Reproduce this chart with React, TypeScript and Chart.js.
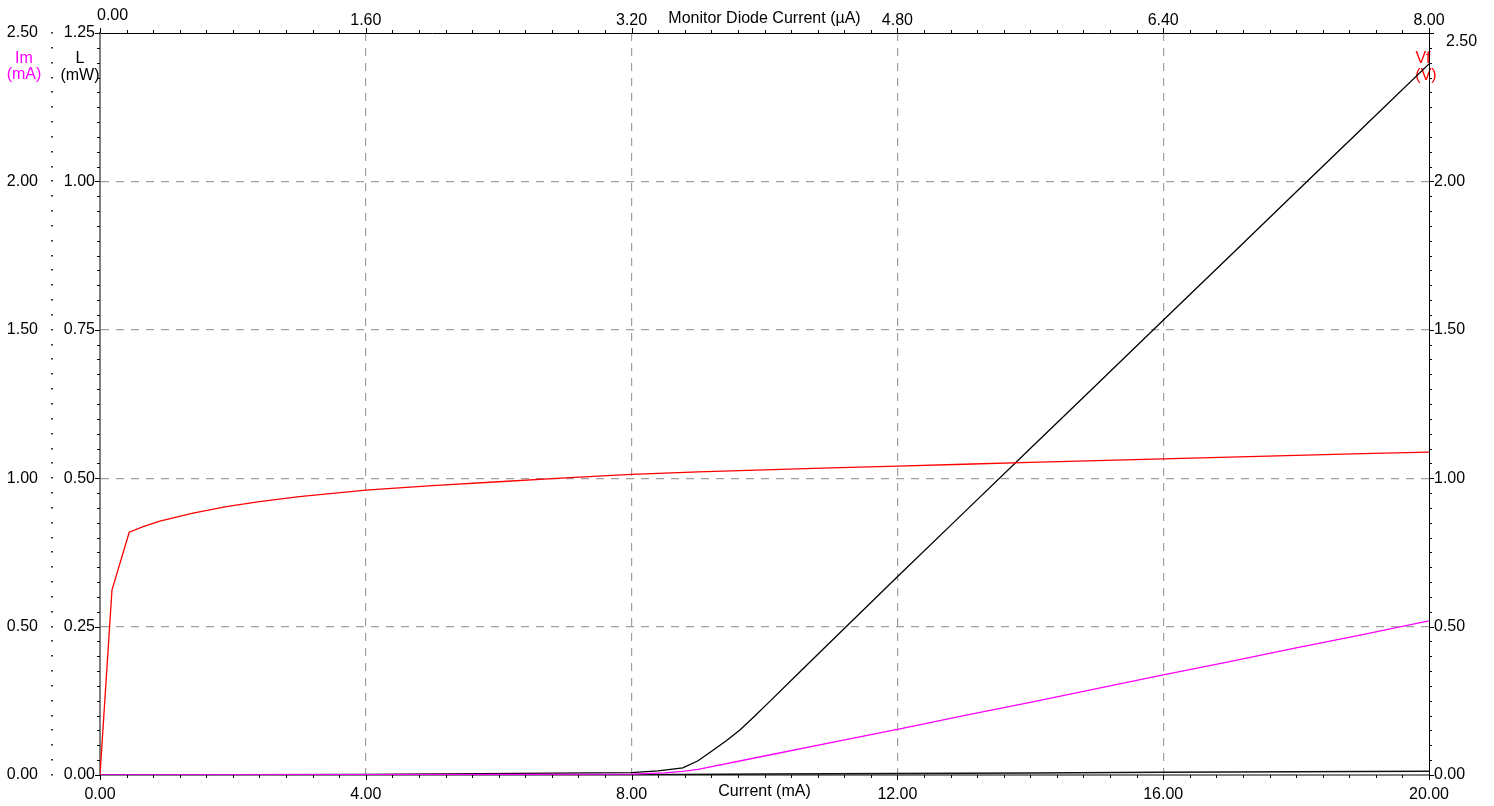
import React, { useEffect, useRef } from 'react';
import { Chart, registerables } from 'chart.js';

Chart.register(...registerables);

// ---- Data ----
// Forward voltage Vf (V) vs drive current (mA)
const currentV = [0, 0.18, 0.44, 0.65, 0.9, 1.4, 1.9, 2.4, 3, 4, 5, 6, 7, 8, 9, 10, 11, 12, 13, 14, 15, 16, 17, 18, 19, 20];
const voltage = [0, 0.623, 0.818, 0.837, 0.855, 0.882, 0.904, 0.921, 0.938, 0.96, 0.975, 0.988, 1.001, 1.013, 1.021, 1.028, 1.035, 1.041, 1.047, 1.053, 1.059, 1.065, 1.071, 1.077, 1.083, 1.088];

// Optical power L (mW) vs drive current (mA)
const currentL = [0, 4, 8, 8.4, 8.77, 9.0, 9.23, 9.43, 9.63, 9.85, 10.08, 10.5, 11, 12, 13, 14, 15, 16, 17, 18, 19, 20];
const power = [0, 0.001, 0.004, 0.007, 0.012, 0.024, 0.042, 0.058, 0.076, 0.099, 0.124, 0.17, 0.225, 0.334, 0.442, 0.55, 0.658, 0.766, 0.874, 0.982, 1.09, 1.198];

// Monitor current Im (mA) vs drive current (mA)
const currentIm = [0, 4, 8, 8.5, 8.8, 9, 10, 11, 12, 13, 14, 15, 16, 17, 18, 19, 20];
const monitorIm = [0, 0.001, 0.003, 0.007, 0.013, 0.019, 0.064, 0.109, 0.154, 0.2, 0.245, 0.291, 0.337, 0.382, 0.428, 0.473, 0.519];

// Low-level trace near the baseline (mW)
const currentAux = [0, 8, 10, 12, 14, 16, 18, 20];
const auxL = [0, 0.0005, 0.0015, 0.0025, 0.0035, 0.0045, 0.0055, 0.0063];

// Axis definitions
const xMax = 20;
const xStep = 4;
const topMax = 8;
const topStep = 1.6;
const lMax = 1.25;
const lStep = 0.25;
const imMax = 2.5;
const imStep = 0.5;
const vMax = 2.5;
const vStep = 0.5;

const FONT = '"Liberation Sans", Arial, sans-serif';
const FS = 16;
const W = 1494;
const H = 806;

export default function App() {
  const ref = useRef<HTMLCanvasElement>(null);

  useEffect(() => {
    document.body.style.margin = '0';
    const canvas = ref.current!;
    const pts = (xs: number[], ys: number[]) => xs.map((x, i) => ({ x, y: ys[i] }));
    const gridColor = '#a0a0a0';
    const dash = [8, 7];
    const edgeless = (n: number) => (c: any) => (c.index === 0 || c.index === n ? 'rgba(0,0,0,0)' : gridColor);
    const fmt = (v: any) => Number(v).toFixed(2);
    const font = { family: FONT, size: FS };

    const decor = {
      id: 'decor',
      beforeDraw(chart: any) {
        const ctx = chart.ctx;
        ctx.save();
        ctx.font = `${FS}px ${FONT}`;
        ctx.textAlign = 'center';
        ctx.textBaseline = 'middle';
        ctx.fillStyle = '#ff00ff';
        ctx.fillText('Im', 24, 59);
        ctx.fillText('(mA)', 24, 75);
        ctx.fillStyle = '#000000';
        ctx.fillText('L', 80, 59);
        ctx.fillText('(mW)', 80, 76);
        ctx.fillStyle = '#ff0000';
        ctx.fillText('Vf', 1423, 59);
        ctx.fillText('(V)', 1426, 76);
        ctx.restore();
      },
      afterDraw(chart: any) {
        const ctx = chart.ctx;
        const a = chart.chartArea;
        const s = chart.scales;
        ctx.save();
        ctx.strokeStyle = '#000';
        ctx.lineWidth = 1;
        ctx.beginPath();
        for (let i = 0; i <= 50; i++) {
          const len = i % 10 === 0 ? 5 : 3;
          // bottom
          let px = Math.round(s.x.getPixelForValue((i * xStep) / 10)) + 0.5;
          ctx.moveTo(px, a.bottom);
          ctx.lineTo(px, a.bottom + len);
          // top
          px = Math.round(s.x2.getPixelForValue((i * topStep) / 10)) + 0.5;
          ctx.moveTo(px, a.top);
          ctx.lineTo(px, a.top - len);
          // left L
          let py = Math.round(s.y.getPixelForValue((i * lStep) / 10)) + 0.5;
          ctx.moveTo(a.left, py);
          ctx.lineTo(a.left - len, py);
          // right V
          py = Math.round(s.yV.getPixelForValue((i * vStep) / 10)) + 0.5;
          ctx.moveTo(a.right, py);
          ctx.lineTo(a.right + len, py);
        }
        ctx.stroke();
        // Im dotted ticks
        ctx.fillStyle = '#333';
        for (let i = 0; i <= 50; i++) {
          const py = Math.round(s.yIm.getPixelForValue((i * imStep) / 10));
          ctx.fillRect(s.yIm.right + 11, py - 1, 2, 1.5);
        }
        // axis titles and offset labels
        ctx.fillStyle = '#000';
        ctx.font = `${FS}px ${FONT}`;
        ctx.textBaseline = 'middle';
        ctx.textAlign = 'center';
        const cx = (a.left + a.right) / 2;
        ctx.fillText('Monitor Diode Current (µA)', cx, 19);
        ctx.fillText('Current (mA)', cx, 792);
        ctx.textAlign = 'left';
        ctx.fillText(fmt(0), a.left - 3, 15.5);
        ctx.fillText(fmt(vMax), a.right + 17, 42);
        ctx.restore();
      },
    };

    const chart = new Chart(canvas, {
      type: 'line',
      data: {
        datasets: [
          {
            label: 'Im',
            data: pts(currentIm, monitorIm),
            borderColor: '#ff00ff',
            borderWidth: 1.3,
            pointRadius: 0,
            xAxisID: 'x',
            yAxisID: 'yIm',
          },
          {
            label: 'Vf',
            data: pts(currentV, voltage),
            borderColor: '#ff0000',
            borderWidth: 1.3,
            pointRadius: 0,
            xAxisID: 'x',
            yAxisID: 'yV',
          },
          {
            label: 'L',
            data: pts(currentL, power),
            borderColor: '#000000',
            borderWidth: 1.3,
            pointRadius: 0,
            xAxisID: 'x',
            yAxisID: 'y',
          },
          {
            label: 'L2',
            data: pts(currentAux, auxL),
            borderColor: '#111111',
            borderWidth: 1.5,
            pointRadius: 0,
            xAxisID: 'x',
            yAxisID: 'y',
          },
        ],
      },
      options: {
        responsive: false,
        animation: false,
        events: [],
        layout: { padding: 0 },
        plugins: { legend: { display: false }, tooltip: { enabled: false } },
        scales: {
          x: {
            type: 'linear',
            position: 'bottom',
            min: 0,
            max: xMax,
            ticks: { stepSize: xStep, callback: fmt, color: '#000', font, padding: 10, maxRotation: 0, autoSkip: false },
            grid: { drawTicks: false, color: edgeless(5), lineWidth: 1.2 },
            border: { display: true, color: '#808080', width: 2, dash },
            afterFit: (sc: any) => { sc.height = 31; },
          },
          x2: {
            type: 'linear',
            position: 'top',
            min: 0,
            max: topMax,
            ticks: {
              stepSize: topStep,
              callback: (v: any, i: number) => (i === 0 ? '' : fmt(v)),
              color: '#000',
              font,
              padding: 3,
              maxRotation: 0,
              autoSkip: false,
            },
            grid: { drawTicks: false, drawOnChartArea: false },
            border: { display: true, color: '#000', width: 1 },
            afterFit: (sc: any) => { sc.height = 33; },
          },
          y: {
            type: 'linear',
            position: 'left',
            weight: 0,
            min: 0,
            max: lMax,
            ticks: { stepSize: lStep, callback: fmt, color: '#000', font, padding: 5 },
            grid: { drawTicks: false, color: edgeless(5), lineWidth: 1.2 },
            border: { display: true, color: '#808080', width: 2, dash },
            afterFit: (sc: any) => { sc.width = 60; },
          },
          yIm: {
            type: 'linear',
            position: 'left',
            weight: 1,
            min: 0,
            max: imMax,
            ticks: { stepSize: imStep, callback: fmt, color: '#000', font, padding: 2 },
            grid: { drawTicks: false, drawOnChartArea: false },
            border: { display: false },
            afterFit: (sc: any) => { sc.width = 40; },
          },
          yV: {
            type: 'linear',
            position: 'right',
            min: 0,
            max: vMax,
            ticks: {
              stepSize: vStep,
              callback: (v: any) => (Number(v) >= vMax ? '' : fmt(v)),
              color: '#000',
              font,
              padding: 5,
            },
            grid: { drawTicks: false, drawOnChartArea: false },
            border: { display: true, color: '#000', width: 1 },
            afterFit: (sc: any) => { sc.width = 65; },
          },
        },
      },
      plugins: [decor],
    } as any);

    return () => chart.destroy();
  }, []);

  return (
    <div style={{ width: W, height: H, background: '#fff' }}>
      <canvas ref={ref} width={W} height={H} style={{ display: 'block' }} />
    </div>
  );
}
